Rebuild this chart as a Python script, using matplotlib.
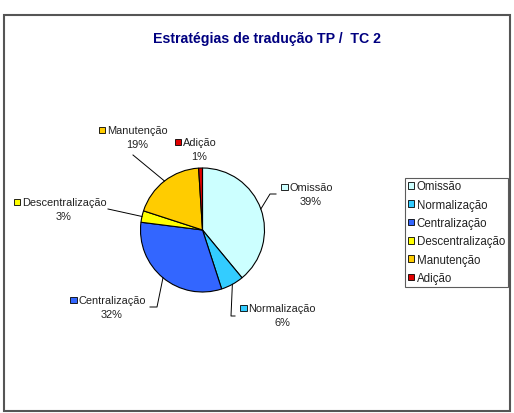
import matplotlib
matplotlib.use("Agg")
import matplotlib.pyplot as plt
from matplotlib.patches import Rectangle, Patch
import numpy as np

# data
categories = ["Omissão", "Normalização", "Centralização",
              "Descentralização", "Manutenção", "Adição"]
shares = [39, 6, 32, 3, 19, 1]
colors = ["#CCFFFF", "#33CCFF", "#3366FF", "#FFFF00", "#FFCC00", "#E00000"]
title = "Estratégias de tradução TP /  TC 2"

plt.rcParams["font.family"] = ["Liberation Sans", "DejaVu Sans"]

W, H = 514, 414
fig = plt.figure(figsize=(W / 100, H / 100), dpi=100)
ax = fig.add_axes([0, 0, 1, 1])


def py(y):
    # image pixel row -> data y
    return H - y


cx, cy, r = 202.5, py(231), 62
wedges, _ = ax.pie(shares, colors=colors, startangle=90, counterclock=False,
                   center=(cx, cy), radius=r, frame=True,
                   wedgeprops=dict(edgecolor="black", linewidth=0.8))
ax.set_aspect("auto")
ax.set_xlim(0, W)
ax.set_ylim(0, H)
ax.axis("off")

# outer frame
ax.add_patch(Rectangle((3.5, py(411.5)), 506, 396, fill=False,
                       edgecolor="#555555", linewidth=1.5))

ax.text(267, py(39), title, ha="center", va="center", fontsize=10.2,
        fontweight="bold", color="#000080")

# label layout: name centre (x, y), percent y, leader points after the edge
label_pos = [(311, 188, 202), (282, 309, 323), (112, 301, 315),
             (64, 203, 217), (137.5, 131, 145), (199.5, 143, 157)]
leaders = [[(270, 195), (276, 195)],
           [(231, 317), (235, 317)],
           [(157, 308), (150, 308)],
           [(108, 210)],
           [(133, 156)],
           []]

fs = 7.9
tcol = "#222222"
fig.canvas.draw()
renderer = fig.canvas.get_renderer()
for w, name, val, col, (lx, ly, pyy), pts in zip(wedges, categories, shares,
                                                 colors, label_pos, leaders):
    t = ax.text(lx, py(ly), name, ha="center", va="center", fontsize=fs,
                color=tcol)
    ax.text(lx, py(pyy), f"{val}%", ha="center", va="center", fontsize=fs,
            color=tcol)
    tw = t.get_window_extent(renderer).width
    left = lx - tw / 2
    ax.add_patch(Rectangle((left - 8, py(ly) - 3.2), 6.3, 6.3, facecolor=col,
                           edgecolor="black", linewidth=0.6))
    if pts:
        mid = np.deg2rad((w.theta1 + w.theta2) / 2)
        xs = [cx + r * np.cos(mid)] + [p[0] for p in pts]
        ys = [cy + r * np.sin(mid)] + [py(p[1]) for p in pts]
        ax.plot(xs, ys, color="black", linewidth=0.7)

handles = [Patch(facecolor=c, edgecolor="black", linewidth=0.6) for c in colors]
leg = fig.legend(handles, categories, loc="upper left",
                 bbox_to_anchor=(405 / W, py(178.5) / H), fontsize=8.3,
                 frameon=True, fancybox=False, borderaxespad=0,
                 handlelength=0.55, handleheight=0.55, handletextpad=0.2,
                 labelspacing=0.55, borderpad=0.25)
leg.get_frame().set_edgecolor("#333333")
leg.get_frame().set_linewidth(0.8)
for txt in leg.get_texts():
    txt.set_color(tcol)

fig.savefig("out.png", dpi=100)
